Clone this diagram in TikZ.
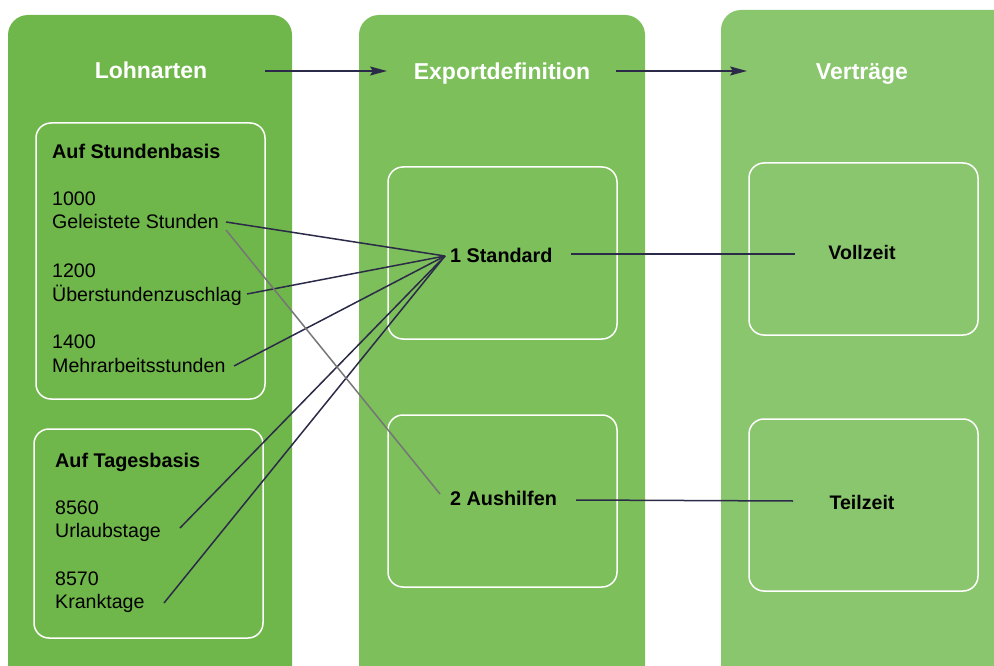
\documentclass[tikz,border=0pt]{standalone}
\usepackage{fontspec}
\setmainfont{Liberation Sans}
\usetikzlibrary{arrows.meta}
\definecolor{colA}{HTML}{6FB74A}
\definecolor{colB}{HTML}{7CBF5B}
\definecolor{colC}{HTML}{8AC66E}
\definecolor{navy}{HTML}{2B2A48}
\definecolor{grayline}{HTML}{767676}
\tikzset{
  column/.style={rounded corners=20pt, draw=none},
  innerbox/.style={rounded corners=15pt, draw=white, line width=1.5pt},
  title/.style={text=white, font=\fontsize{23}{27}\selectfont\bfseries, anchor=base},
  group/.style={font=\fontsize{19.8}{23}\selectfont\bfseries, anchor=base west, inner sep=0pt},
  item/.style={font=\fontsize{19.6}{23}\selectfont, anchor=base west, inner sep=0pt},
  target/.style={font=\fontsize{19.8}{23}\selectfont\bfseries, anchor=base west, inner sep=0pt},
  target2/.style={font=\fontsize{19.6}{23}\selectfont\bfseries, anchor=base, inner sep=0pt},
  flow/.style={draw=navy, line width=1.5pt, -{Stealth[length=17pt,width=9pt,inset=3pt]}},
  link/.style={draw=navy, line width=1.5pt},
  glink/.style={draw=grayline, line width=1.5pt}
}
\begin{document}
\begin{tikzpicture}[x=1pt,y=-1pt]
\useasboundingbox (0,0) rectangle (994,666);
% columns
\fill[colA, column] (8,15) rectangle (292,690);
\fill[colB, column] (359,15) rectangle (645,690);
\fill[colC, column] (721,10) rectangle (1020,690);
% inner boxes
\draw[innerbox] (36,123) rectangle (265,399);
\draw[innerbox] (34,429) rectangle (263,638);
\draw[innerbox] (388,167) rectangle (617,339);
\draw[innerbox] (388,415) rectangle (617,587);
\draw[innerbox] (749,163) rectangle (978,335);
\draw[innerbox] (749,419) rectangle (978,591);
% titles
\node[title] (lohn) at (151,79) {Lohnarten};
\node[title] (exp) at (502,80) {Exportdefinition};
\node[title] (vert) at (862,80) {Verträge};
\coordinate (a1s) at (265,71);
\coordinate (a1e) at (387,71);
\coordinate (a2s) at (616,71);
\coordinate (a2e) at (747,71);
\draw[flow] (a1s) -- (a1e);
\draw[flow] (a2s) -- (a2e);
% left texts
\node[group] (stb) at (52,159) {Auf Stundenbasis};
\node[item] (n1000) at (52,206) {1000};
\node[item] (geleistet) at (52,229) {Geleistete Stunden};
\node[item] (n1200) at (52,277) {1200};
\node[item] (ueber) at (52,301) {Überstundenzuschlag};
\node[item] (n1400) at (52,348) {1400};
\node[item] (mehr) at (52,372) {Mehrarbeitsstunden};
\node[group] (tab) at (55,467) {Auf Tagesbasis};
\node[item] (n8560) at (55,514) {8560};
\node[item] (urlaub) at (55,537) {Urlaubstage};
\node[item] (n8570) at (55,585) {8570};
\node[item] (krank) at (55,608) {Kranktage};
% middle
\node[target] (std) at (450,262) {1 Standard};
\node[target] (aus) at (450,505) {2 Aushilfen};
% right
\node[target2] (voll) at (862,259) {Vollzeit};
\node[target2] (teil) at (862,509) {Teilzeit};
% connector ends
\coordinate (c1) at (226,222);
\coordinate (c2) at (247,294);
\coordinate (c3) at (234,366);
\coordinate (c4) at (180,528);
\coordinate (c5) at (164,603);
\coordinate (cg) at (226,230);
\coordinate (cs) at (445,256);
\coordinate (ca) at (440,494);
\coordinate (cs2) at (571,254);
\coordinate (cv) at (795,254);
\coordinate (ca2) at (576,500);
\coordinate (ct) at (793,501);
\draw[link] (c1) -- (cs);
\draw[link] (c2) -- (cs);
\draw[link] (c3) -- (cs);
\draw[link] (c4) -- (cs);
\draw[link] (c5) -- (cs);
\draw[glink] (cg) -- (ca);
\draw[link] (cs2) -- (cv);
\draw[link] (ca2) -- (ct);
\end{tikzpicture}
\end{document}
